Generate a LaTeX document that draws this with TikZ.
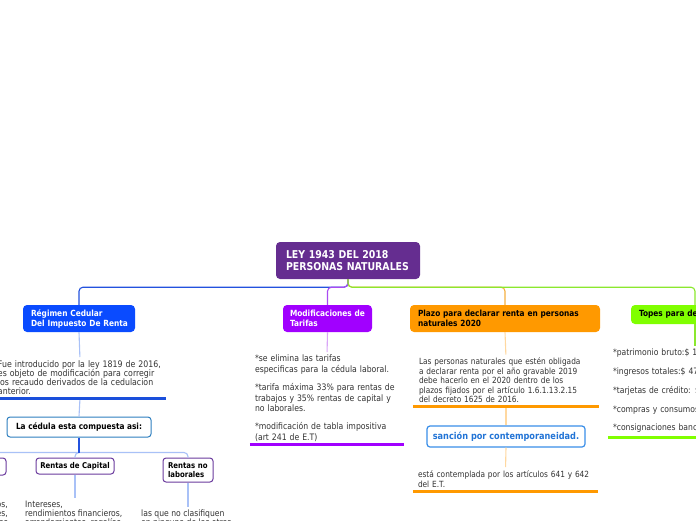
\documentclass[tikz,border=0pt]{standalone}
\usepackage{fontspec}
\setmainfont[FakeStretch=0.87]{DejaVu Sans}
\usetikzlibrary{calc}
\definecolor{rootc}{HTML}{652D90}
\definecolor{bluec}{HTML}{0A4BFF}
\definecolor{purc}{HTML}{A100FF}
\definecolor{orc}{HTML}{FF9900}
\definecolor{grc}{HTML}{80FF00}
\definecolor{bline}{HTML}{2352DE}
\definecolor{lblue}{HTML}{A9C1F7}
\definecolor{lpur}{HTML}{D9A6F7}
\definecolor{lor}{HTML}{FFD8A0}
\definecolor{grline}{HTML}{8BE82E}
\definecolor{pline}{HTML}{A94BF2}
\definecolor{oline}{HTML}{F5B041}
\definecolor{cedc}{HTML}{2E7FBF}
\definecolor{rentc}{HTML}{6B3B9E}
\definecolor{sanc}{HTML}{3A8EE8}
\definecolor{santxt}{HTML}{2274D6}
\definecolor{txtc}{HTML}{333333}
\definecolor{ulblue}{HTML}{1A4FDB}
\tikzset{
  topbox/.style={rounded corners=4pt, inner ysep=0pt, align=left,
    font=\fontsize{8.5}{10}\selectfont\bfseries},
  outbox/.style={draw, fill=white, line width=1pt, rounded corners=3pt, inner sep=0pt},
  bodytxt/.style={inner ysep=0pt, align=left, text=txtc, anchor=north},
  conn/.style={line width=1.1pt, rounded corners=4pt},
  uline/.style={line width=3pt},
}
\begin{document}
\begin{tikzpicture}[x=1pt,y=-1pt]
\fill[white] (0,0) rectangle (696,520);
\useasboundingbox (0,0) rectangle (696,520);
\clip (0,0) rectangle (696,520);

% main boxes
\node[topbox, fill=rootc, text=white, text width=124pt, inner xsep=10pt, minimum height=37pt,
  font=\fontsize{10.8}{12}\selectfont\bfseries] (root) at (348,260.5) {\mbox{LEY 1943 DEL 2018}\\\mbox{PERSONAS NATURALES}};
\node[topbox, fill=bluec, text=white, text width=96pt, inner xsep=8pt, minimum height=27pt] (reg) at (79,318.5) {\mbox{Régimen Cedular}\\\mbox{Del Impuesto De Renta}};
\node[topbox, fill=purc, text=white, text width=75pt, inner xsep=7pt, minimum height=27pt] (mod) at (327.5,318.5) {\mbox{Modificaciones de}\\\mbox{Tarifas}};
\node[topbox, fill=orc, text=black, text width=174pt, inner xsep=8pt, minimum height=27pt] (plazo) at (505,318.5) {\mbox{Plazo para declarar renta en personas}\\\mbox{naturales 2020}};
\node[topbox, fill=grc, text=black, text width=112pt, inner xsep=8pt, minimum height=19pt] (topes) at (695,314.5) {\mbox{Topes para declarar}};

% top connectors
\coordinate (rj) at ($(root.south)+(0,8)$);
\draw[conn, bline] (root.south) -- (rj) -| (reg.north);
\draw[conn, oline] (root.south) -- (rj) -| (plazo.north);
\draw[conn, pline] (root.south) -- (rj) -| (mod.north);
\draw[conn, grline] (root.south) -- (rj) -| (topes.north);

% Regimen branch
\node[bodytxt, text width=164pt, inner xsep=4pt, font=\fontsize{9}{9.3}\selectfont] (regt) at (80,360) {\mbox{Fue introducido por la ley 1819 de 2016,}\\\mbox{es objeto de modificación para corregir}\\\mbox{los recaudo derivados de la cedulacion}\\anterior.\strut};
\draw[conn, lblue, shorten >=3pt] (reg.south) -- (regt.north);
\node[outbox, draw=cedc, minimum width=144pt, minimum height=20pt, font=\fontsize{8.5}{10}\selectfont\bfseries] (ced) at (79,427) {La cédula esta compuesta asi:};
\draw[conn, lblue] (regt.south) -- (ced.north);
\draw[ulblue, uline] ([yshift=-1pt]regt.south west) -- ([yshift=-1pt]regt.south east);

\node[outbox, draw=rentc, minimum width=78pt, minimum height=16pt, font=\fontsize{8}{9}\selectfont\bfseries] (cap) at (75,466) {Rentas de Capital};
\node[outbox, draw=rentc, text width=40pt, inner xsep=5pt, minimum height=24pt, align=left, font=\fontsize{8}{8.5}\selectfont\bfseries] (nolab) at (188,470) {\mbox{Rentas no}\\\mbox{laborales}};
\node[outbox, draw=rentc, minimum width=82pt, minimum height=17pt, font=\fontsize{8}{9}\selectfont\bfseries] (trab) at (-35,466.5) {Rentas de Trabajo};
\coordinate (cj) at ($(ced.south)+(0,15)$);
\draw[conn, lblue] (cj) -| (cap.north);
\draw[conn, lblue] (cj) -| (nolab.north);
\draw[conn, lblue] (cj) -| (trab.north);
\draw[conn, bline] (ced.south) -- (cj);

\node[bodytxt, anchor=north west, inner xsep=0pt, font=\fontsize{8.8}{9}\selectfont] (capt) at (25,501) {Intereses,\\rendimientos financieros,\\arrendamientos, regalías};
\draw[conn, lblue, shorten >=3pt] (cap.south) -- (cap.south |- capt.north);
\node[bodytxt, anchor=north west, inner xsep=0pt, font=\fontsize{8.8}{9}\selectfont] (nolt) at (141,510) {las que no clasifiquen\\en ninguna de las otras\\cédulas};
\draw[conn, lblue, shorten >=3pt] (nolab.south) -- (nolab.south |- nolt.north);
\node[bodytxt, anchor=north east, inner xsep=0pt, align=right, font=\fontsize{8.8}{9}\selectfont] (trabt) at (8,501) {salarios,\\comisiones,\\honorarios};
\draw[conn, lblue, shorten >=3pt] (trab.south) -- (trab.south |- trabt.north);

% Modificaciones branch
\node[bodytxt, text width=144pt, inner xsep=5pt, font=\fontsize{8.9}{10.6}\selectfont] (modt) at (327,355) {*se elimina las tarifas\\\mbox{especificas para la cédula laboral.}\\[7.5pt]\mbox{*tarifa máxima 33\% para rentas de}\\\mbox{trabajos y 35\% rentas de capital y}\\no laborales.\\[7.5pt]\mbox{*modificación de tabla impositiva}\\(art 241 de E.T)\strut};
\draw[conn, lpur, shorten >=3pt] (mod.south) -- (modt.north);
\draw[purc, uline] ([yshift=-1pt]modt.south west) -- ([yshift=-1pt]modt.south east);

% Plazo branch
\node[bodytxt, text width=174pt, inner xsep=6pt, font=\fontsize{8.5}{9.6}\selectfont] (plt) at (506,357.5) {\mbox{Las personas naturales que estén obligada}\\\mbox{a declarar renta por el año gravable 2019}\\\mbox{debe hacerlo en el 2020 dentro de los}\\\mbox{plazos fijados por el artículo 1.6.1.13.2.15}\\del decreto 1625 de 2016.\strut};
\draw[conn, lor, shorten >=3pt] (plazo.south) -- (plt.north);
\node[outbox, draw=sanc, line width=1.2pt, text=santxt, minimum width=158pt, minimum height=21pt, font=\fontsize{9.4}{11}\selectfont\bfseries] (san) at (506,436.5) {sanción por contemporaneidad.};
\draw[conn, lor] (plt.south) -- (san.north);
\draw[orc, uline] ([yshift=-1pt]plt.south west) -- ([yshift=-1pt]plt.south east);
\node[bodytxt, text width=175pt, inner xsep=5pt, font=\fontsize{8.5}{10}\selectfont] (sant) at (505.5,470) {\mbox{está contemplada por los artículos 641 y 642}\\del E.T.\strut};
\draw[conn, lor, shorten >=3pt] (san.south) -- (sant.north);
\draw[orc, uline] ([yshift=-1pt]sant.south west) -- ([yshift=-1pt]sant.south east);

% Topes branch
\node[bodytxt, text width=166pt, inner xsep=5pt, font=\fontsize{8.8}{18.75}\selectfont] (topt) at (696,349) {*patrimonio bruto:\$ 154.215.000\\{}*ingresos totales:\$ 47.978.000\\{}*tarjetas de crédito: \$47.978.000\\{}*compras y consumos: \$47.978.000\\{}*consignaciones bancarias: \$47.978.000\strut};
\draw[conn, grline, shorten >=3pt] (topes.south) -- (topes.south |- topt.north);
\draw[grc, uline] ([yshift=-1pt]topt.south west) -- ([yshift=-1pt]topt.south east);
\end{tikzpicture}
\end{document}
